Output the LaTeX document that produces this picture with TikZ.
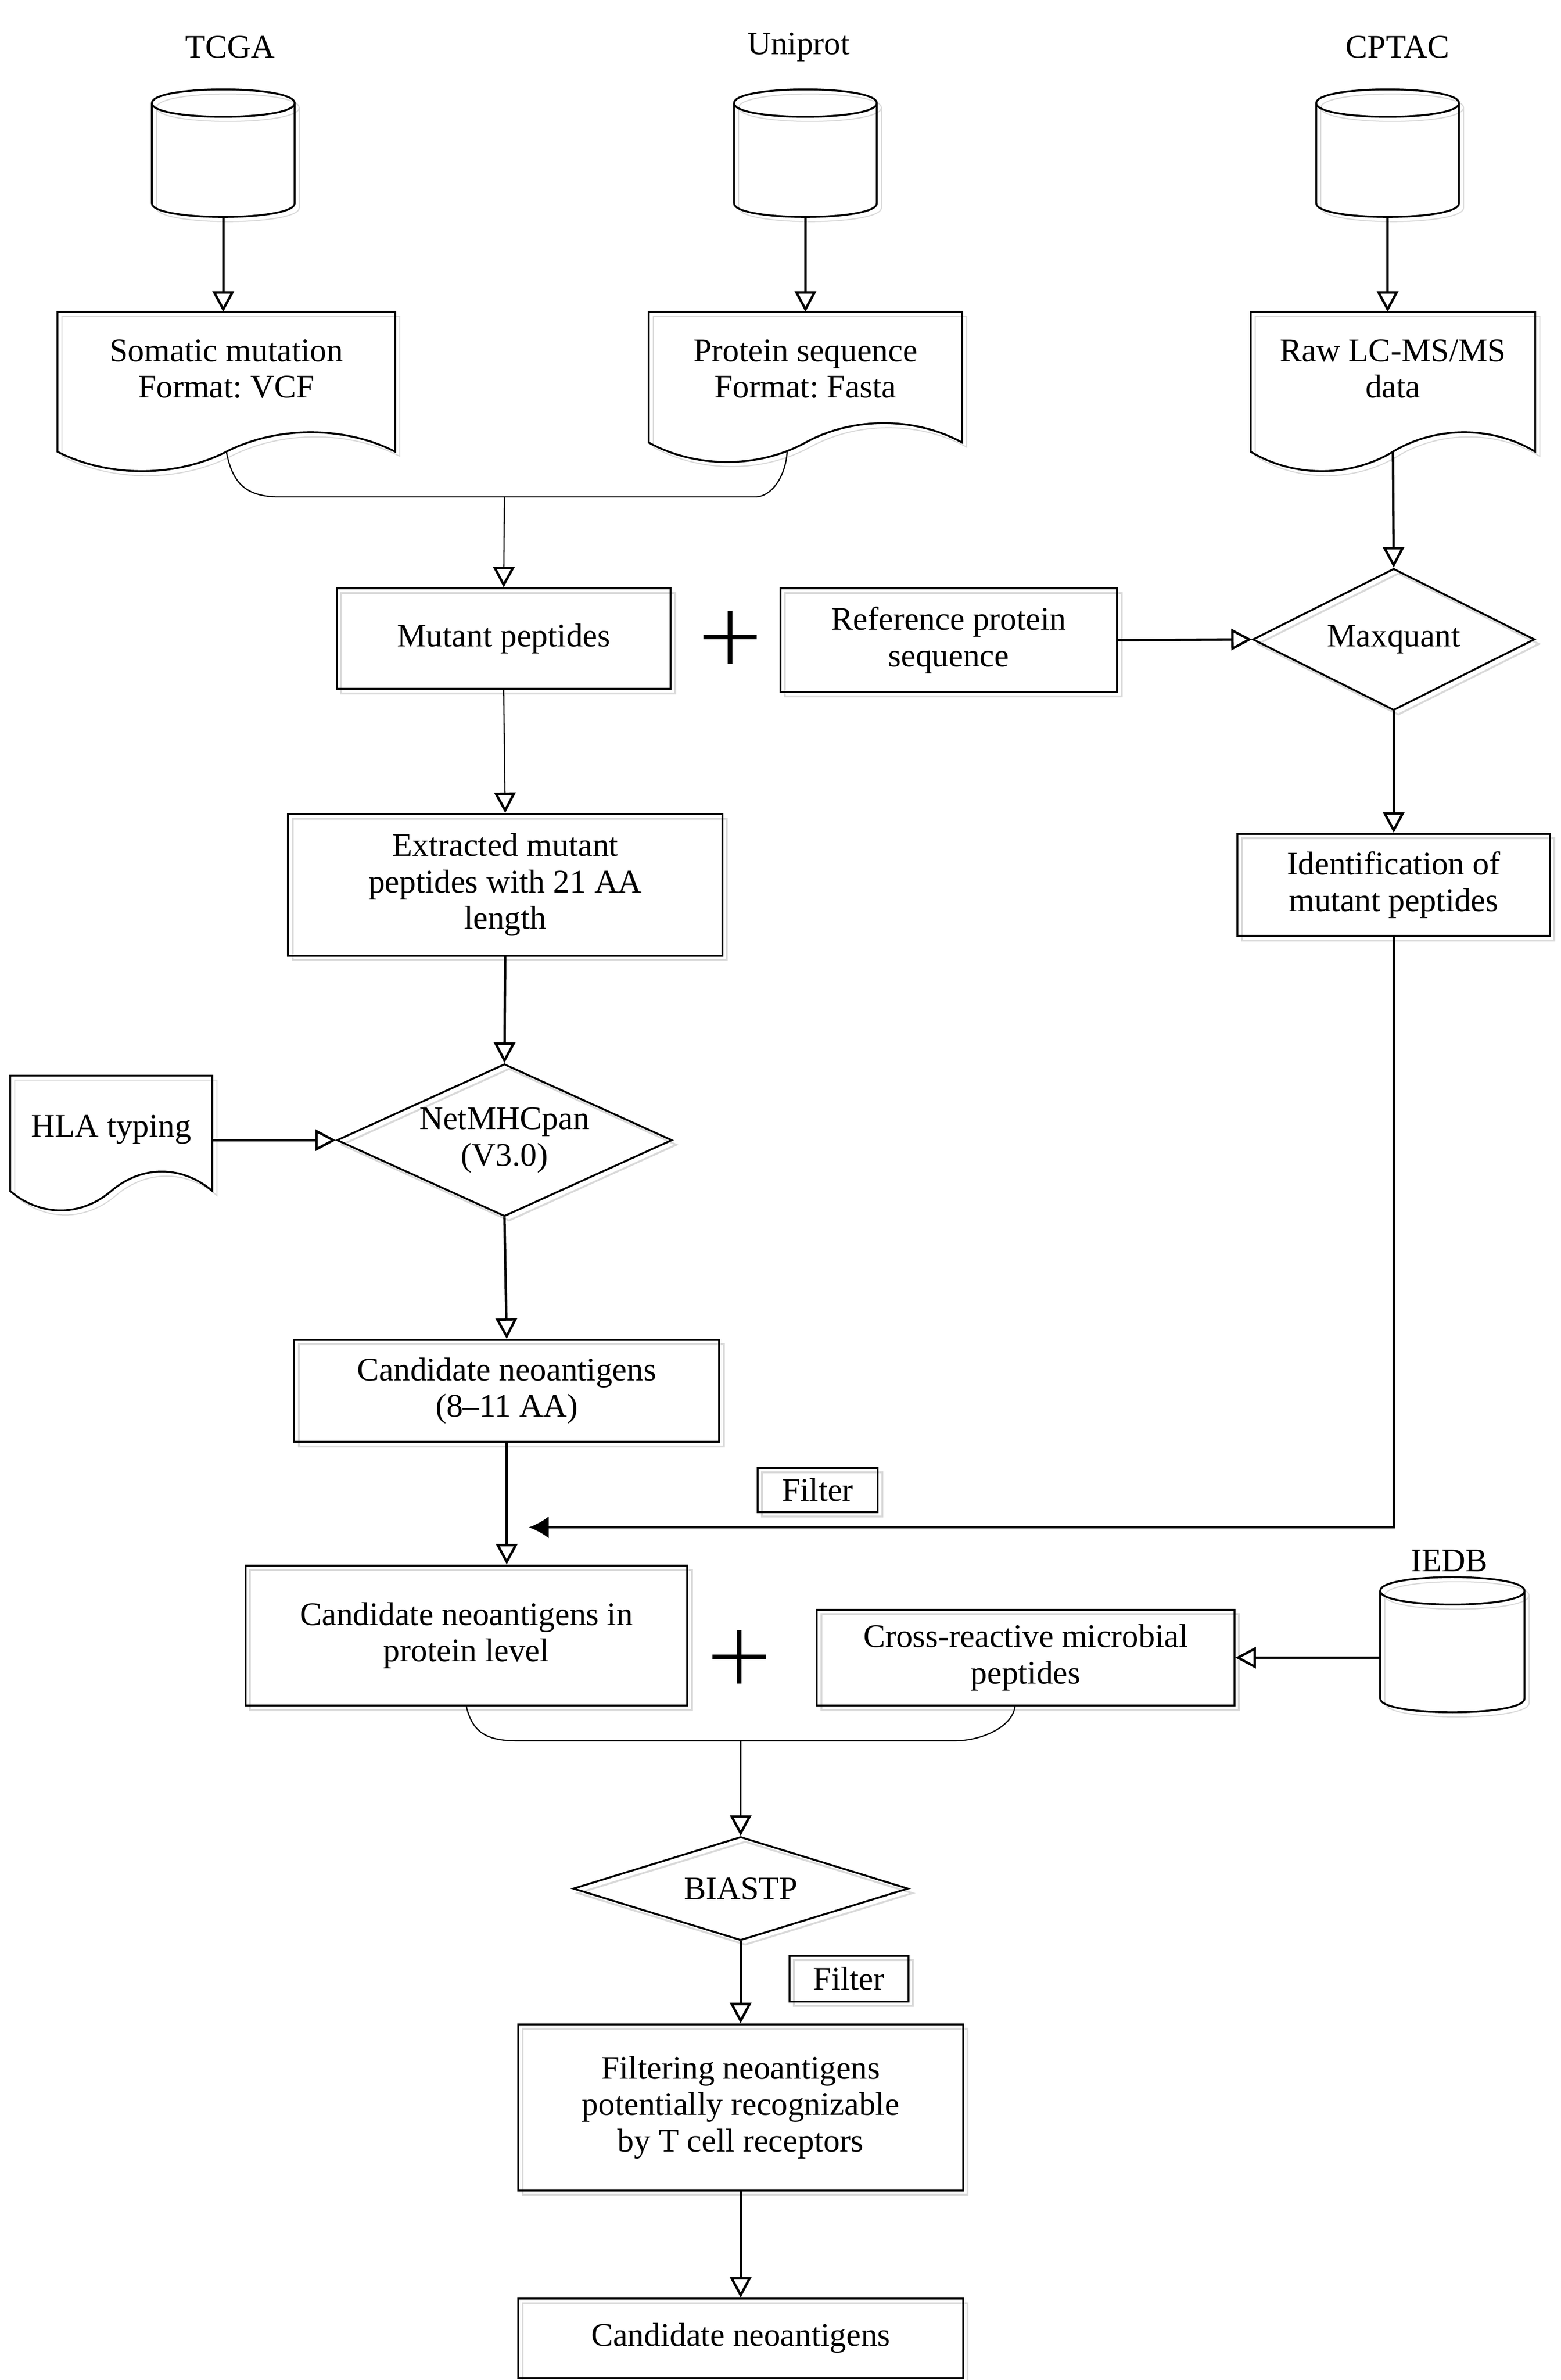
\documentclass[tikz,border=0pt]{standalone}
\usepackage{fontspec}
\setmainfont{Liberation Serif}
\usetikzlibrary{arrows.meta,calc,shadows,shapes.geometric}

% document symbol: wavy lower edge, #2 = drop of the wave below the node
\newcommand{\docwave}[2]{%
  \coordinate (#1-l) at ($(#1.south west)+(0,#2)$);
  \coordinate (#1-w) at ($(#1.south)+(0,#2)$);
  \coordinate (#1-r) at ($(#1.south east)+(0,#2)$);
  \draw[docline] (#1.north west) -- (#1-l)
    .. controls ($(#1-l)!.3!(#1-w)+(0,17)$) and ($(#1-l)!.7!(#1-w)+(0,17)$) .. (#1-w)
    .. controls ($(#1-w)!.3!(#1-r)+(0,-17)$) and ($(#1-w)!.7!(#1-r)+(0,-17)$) .. (#1-r)
    -- (#1.north east) -- cycle;}
% database drum drawn round a plain node
\newcommand{\dbdrum}[1]{%
  \coordinate (#1-b) at ($(#1.south)+(0,9)$);
  \draw[docline] (#1.north west) -- (#1.south west)
    .. controls ($(#1.south west)+(0,12)$) and ($(#1.south east)+(0,12)$) .. (#1.south east)
    -- (#1.north east)
    .. controls ($(#1.north east)+(0,-12)$) and ($(#1.north west)+(0,-12)$) .. (#1.north west)
    .. controls ($(#1.north west)+(0,12)$) and ($(#1.north east)+(0,12)$) .. (#1.north east);}

\begin{document}
\frenchspacing
\begin{tikzpicture}[x=.02cm, y=-.02cm,
    every node/.style={font=\fontsize{12.3}{13.6}\selectfont, align=center},
    ghost/.style={general shadow={draw=black!15, line width=.7pt, shadow xshift=.06cm, shadow yshift=-.06cm}},
    box/.style={draw, line width=.7pt, inner sep=1pt, ghost},
    decision/.style={diamond, draw, line width=.7pt, inner sep=0pt, ghost},
    doc/.style={inner sep=1pt},
    drum/.style={inner sep=0pt, minimum width=1.86cm, minimum height=1.3cm},
    docline/.style={line width=.7pt, preaction={draw=black!15, transform canvas={shift={(.06cm,-.06cm)}}}},
    flow/.style={line width=.9pt, -{Triangle[open, length=.27cm, width=.28cm]}},
    thinflow/.style={line width=.45pt, -{Triangle[open, length=.27cm, width=.28cm, line width=.9pt]}},
    joinline/.style={line width=.45pt},
    plussign/.style={minimum size=.7cm, inner sep=0pt, path picture={
        \draw[line width=1.7pt] (path picture bounding box.north) -- (path picture bounding box.south)
          (path picture bounding box.west) -- (path picture bounding box.east);}}]
    \useasboundingbox (0,0) rectangle (1024,1561.4);

    % sources
    \node (tcgalab) at (151,31) {TCGA};
    \node (unilab) at (524,31) {Uniprot};
    \node (cptaclab) at (917,31) {CPTAC};
    \node[drum] (tcga) at (146.5,100.5) {};
    \node[drum] (uniprot) at (528.5,100.5) {};
    \node[drum] (cptac) at (910.5,100.5) {};
    \dbdrum{tcga} \dbdrum{uniprot} \dbdrum{cptac}

    \node[doc, minimum width=4.42cm, minimum height=1.48cm] (somatic) at (148.5,242) {Somatic mutation\\Format: VCF};
    \node[doc, minimum width=4.1cm, minimum height=1.48cm] (protein) at (528.5,242) {Protein sequence\\Format: Fasta};
    \node[doc, minimum width=3.72cm, minimum height=1.48cm] (raw) at (914,242) {Raw LC-MS/MS\\data};
    \docwave{somatic}{17} \docwave{protein}{11} \docwave{raw}{17}

    % peptides
    \node[box, minimum width=4.38cm, minimum height=1.32cm] (mutant) at (330.5,419) {Mutant peptides};
    \node[plussign] (plusA) at (479,418) {};
    \node[box, minimum width=4.42cm, minimum height=1.36cm] (ref) at (622.5,420) {Reference protein\\sequence};
    \node[decision, aspect=2, minimum width=3.7cm, minimum height=1.86cm] (maxquant) at (914.5,419.5) {Maxquant};
    \node[box, minimum width=5.7cm, minimum height=1.86cm] (extracted) at (331.5,580.5) {Extracted mutant\\peptides with 21 AA\\length};
    \node[box, minimum width=4.1cm, minimum height=1.34cm] (ident) at (914.5,580.5) {Identification of\\mutant peptides};
    \node[doc, minimum width=2.64cm, minimum height=1.4cm] (hla) at (73,741) {HLA typing};
    \docwave{hla}{5}
    \node[decision, aspect=2.2, minimum width=4.4cm, minimum height=2cm] (netmhc) at (331,748) {NetMHCpan\\(V3.0)};
    \node[box, minimum width=5.58cm, minimum height=1.34cm] (cand) at (332.5,912.5) {Candidate neoantigens\\(8--11 AA)};
    \node[box, minimum width=1.58cm, minimum height=.58cm] (filterA) at (536.5,977.5) {Filter};
    \coordinate (merge) at (347,1002);

    % neoantigens
    \node[box, minimum width=5.8cm, minimum height=1.84cm] (candprot) at (306,1073) {Candidate neoantigens in\\protein level};
    \node[plussign] (plusB) at (485,1087) {};
    \node[box, minimum width=5.48cm, minimum height=1.26cm] (cross) at (673,1087.5) {Cross-reactive microbial\\peptides};
    \node (iedblab) at (951,1024) {IEDB};
    \node[drum, minimum width=1.88cm, minimum height=1.4cm] (iedb) at (953,1079) {};
    \dbdrum{iedb}
    \node[decision, aspect=3.2, minimum width=4.4cm, minimum height=1.36cm] (biastp) at (486,1239) {BIASTP};
    \node[box, minimum width=1.56cm, minimum height=.6cm] (filterB) at (557,1298) {Filter};
    \node[box, minimum width=5.84cm, minimum height=2.18cm] (filtering) at (486,1382.5) {Filtering neoantigens\\potentially recognizable\\by T cell receptors};
    \node[box, minimum width=5.84cm, minimum height=1.04cm] (final) at (486,1534) {Candidate neoantigens};

    % connectors
    \draw[flow] (tcga-b) -- (tcga-b |- somatic.north);
    \draw[flow] (uniprot-b) -- (uniprot-b |- protein.north);
    \draw[flow] (cptac-b) -- (cptac-b |- raw.north);
    \coordinate (joinA) at (331,326);
    \draw[joinline] (somatic-w) .. controls ($(somatic-w)+(4,20)$) and ($(somatic-w |- joinA)+(12,0)$) .. ($(somatic-w |- joinA)+(35,0)$)
        -- ($(protein-w |- joinA)+(-33,0)$) .. controls ($(protein-w |- joinA)+(-22,0)$) and ($(protein-w)+(-13,22)$) .. ($(protein-w)+(-12,6)$);
    \draw[thinflow] (joinA) -- (mutant.north);
    \draw[flow] (ref.east) -- (maxquant.west);
    \draw[flow] (raw-w) -- (maxquant.north);
    \draw[thinflow] (mutant.south) -- (extracted.north);
    \draw[flow] (maxquant.south) -- (ident.north);
    \draw[flow] (extracted.south) -- (netmhc.north);
    \draw[flow] (hla.east |- netmhc.west) -- (netmhc.west);
    \draw[flow] (netmhc.south) -- (cand.north);
    \draw[line width=.9pt, -{Latex[length=.26cm, width=.29cm]}] (ident.south) |- (merge);
    \draw[flow] (cand.south) -- (cand.south |- candprot.north);
    \draw[flow] (cross.east -| iedb.west) -- (cross.east);
    \coordinate (joinB) at (486,1142);
    \draw[joinline] (candprot.south) .. controls ($(candprot.south)+(4,16)$) and ($(candprot.south |- joinB)+(12,0)$) .. ($(candprot.south |- joinB)+(33,0)$)
        -- ($(cross.south |- joinB)+(-46,0)$) .. controls ($(cross.south |- joinB)+(-30,0)$) and ($(cross.south)+(-9,14)$) .. ($(cross.south)+(-7,0)$);
    \draw[thinflow] (joinB) -- (biastp.north);
    \draw[flow] (biastp.south) -- (filtering.north);
    \draw[flow] (filtering.south) -- (final.north);
\end{tikzpicture}
\end{document}
